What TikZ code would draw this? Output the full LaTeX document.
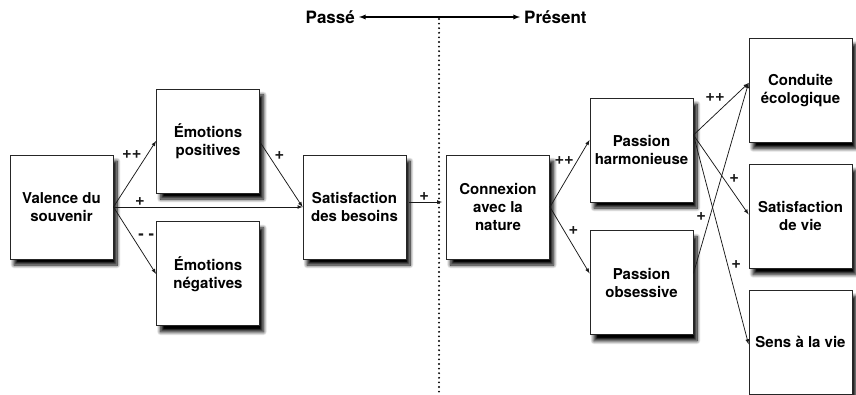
\documentclass[tikz,border=0pt]{standalone}
\usepackage{fontspec}
\setmainfont{TeX Gyre Heros}
\usetikzlibrary{positioning}
\usetikzlibrary{shadows.blur}
\tikzset{
  box/.style={rectangle,draw=black!85,line width=0.9pt,fill=white,align=center,
    minimum width=103pt,minimum height=104pt,inner sep=2pt,
    font=\fontsize{15}{18}\selectfont\bfseries,
    blur shadow={shadow xshift=4pt,shadow yshift=-6pt,shadow blur radius=3.5pt,
      shadow blur steps=10,shadow opacity=100}},
  link/.style={-latex,line width=0.75pt,black!90},
  sign/.style={font=\fontsize{16.5}{16.5}\selectfont\bfseries,inner sep=1.5pt},
  era/.style={font=\fontsize{17}{17}\selectfont\bfseries,inner sep=4pt},
  divider/.style={line width=2.1pt,dash pattern=on 0pt off 4.6pt,line cap=round,black}
}
\begin{document}
\begin{tikzpicture}[x=1pt,y=-1pt]
  \useasboundingbox (0,0) rectangle (856,395);
  % time axis
  \node (passe) [era,anchor=east] at (359,17) {Passé};
  \node (present) [era,anchor=west] at (520,17) {Présent};
  \draw[latex-latex,line width=1.3pt] (passe.east) -- (present.west);
  \coordinate (split) at (439,19);
  \coordinate (splitend) at (439,395);
  \draw[divider] (split) -- (splitend);
  % past
  \node (val) [box] at (61.5,207) {Valence du\\souvenir};
  \node (emopos) [box] at (208,141) {Émotions\\positives};
  \node (emoneg) [box,below=28pt of emopos] {Émotions\\négatives};
  \node (satbes) [box] at (354.5,207) {Satisfaction\\des besoins};
  % present
  \node (connex) [box] at (498,207) {Connexion\\avec la\\nature};
  \node (pashar) [box] at (641.5,150) {Passion\\harmonieuse};
  \node (pasobs) [box,below=28pt of pashar] {Passion\\obsessive};
  \node (condui) [box] at (800.5,90.5) {Conduite\\écologique};
  \node (satvie) [box,below=21pt of condui] {Satisfaction\\de vie};
  \node (sens) [box,below=21pt of satvie] {Sens à la vie};
  % links
  \draw[link] (val.east) -- node[sign,pos=.7,above left] {++} (emopos.west);
  \draw[link] (val.east) -- node[sign,pos=.14,above] {+} (satbes.west);
  \draw[link] (val.east) -- node[sign,pos=.45,right=4pt] {-\ -} (emoneg.west);
  \draw[link] ([yshift=-1pt]emopos.east) -- node[sign,pos=.3,above right] {+} (satbes.west);
  \draw[link,shorten <=3pt,shorten >=4pt] ([yshift=5pt]satbes.east) -- node[sign,pos=.45,above] {+} ([yshift=5pt]connex.west);
  \draw[link] (connex.east) -- node[sign,pos=.7,left=2pt] {++} ([yshift=10pt]pashar.west);
  \draw[link] (connex.east) -- node[sign,pos=.35,right=3pt] {+} ([yshift=9.5pt]pasobs.west);
  \draw[link] ([yshift=15pt]pashar.east) -- node[sign,pos=.6,above left] {++} ([yshift=7.5pt]condui.west);
  \draw[link] ([yshift=15pt]pashar.east) -- node[sign,pos=.62,above right] {+} ([yshift=2pt]satvie.west);
  \draw[link] ([yshift=15pt]pashar.east) -- node[sign,pos=.62,right=2pt] {+} ([yshift=-2pt]sens.west);
  \draw[link] ([yshift=9.5pt]pasobs.east) -- node[sign,pos=.3,left=2pt] {+} ([yshift=7.5pt]condui.west);
\end{tikzpicture}
\end{document}
